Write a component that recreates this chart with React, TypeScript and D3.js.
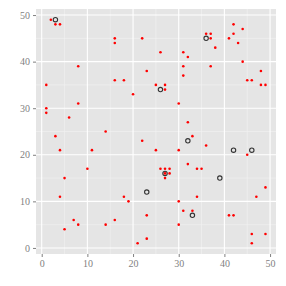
import React, { useEffect, useRef } from 'react'
import { scaleLinear, select, axisBottom, axisLeft, range } from 'd3'

// red points
const pointX = [2, 3, 4, 16, 16, 22, 8, 1, 16, 18, 20, 1, 1, 8, 6, 14, 3, 22,
  42, 44, 36, 37, 42, 37, 41, 43, 38, 26, 31, 32, 44, 31, 37, 23, 31, 48, 45, 46, 25, 27, 27, 48, 49, 30, 32, 33,
  4, 11, 10, 5, 4, 7, 8, 5, 14, 16, 18, 19, 21,
  25, 30, 36, 45, 32, 26, 27, 28, 34, 35, 27, 28, 27, 49, 34, 47, 30, 31, 33, 23, 41, 42, 30, 23, 46, 49, 46]
const pointY = [49, 48, 48, 45, 44, 45, 39, 35, 36, 36, 33, 30, 29, 31, 28, 25, 24, 23,
  48, 47, 46, 46, 46, 45, 45, 44, 43, 42, 42, 41, 40, 39, 39, 38, 37, 38, 36, 36, 35, 35, 34, 35, 35, 31, 27, 24,
  21, 21, 17, 15, 11, 6, 5, 4, 5, 6, 11, 10, 1,
  21, 21, 22, 20, 18, 17, 17, 17, 17, 17, 16, 16, 15, 13, 11, 11, 10, 8, 8, 7, 7, 7, 5, 2, 3, 3, 1]

// black open circles
const ringX = [3, 36, 26, 32, 42, 46, 27, 39, 23, 33]
const ringY = [49, 45, 34, 23, 21, 21, 16, 15, 12, 7]

const majorTicks = [0, 10, 20, 30, 40, 50]
const minorTicks = [5, 15, 25, 35, 45]

function App() {
  const svgRef = useRef(null)

  const width = 286,
    height = 286,
    panel = { left: 36, top: 9, right: 276, bottom: 254 }

  useEffect(() => {
    const svg = select(svgRef.current)
    svg.selectAll('*').remove()

    const xScale = scaleLinear().domain([-1.25, 51.3]).range([panel.left, panel.right])
    const yScale = scaleLinear().domain([-1.3, 51.3]).range([panel.bottom, panel.top])

    // panel background
    svg.append('rect')
      .attr('x', panel.left)
      .attr('y', panel.top)
      .attr('width', panel.right - panel.left)
      .attr('height', panel.bottom - panel.top)
      .attr('fill', '#e5e5e5')

    // minor grid
    svg.append('g').selectAll('line').data(minorTicks).join('line')
      .attr('x1', d => xScale(d)).attr('x2', d => xScale(d))
      .attr('y1', panel.top).attr('y2', panel.bottom)
      .attr('stroke', '#f2f2f2').attr('stroke-width', 0.6)
    svg.append('g').selectAll('line').data(minorTicks).join('line')
      .attr('y1', d => yScale(d)).attr('y2', d => yScale(d))
      .attr('x1', panel.left).attr('x2', panel.right)
      .attr('stroke', '#f2f2f2').attr('stroke-width', 0.6)

    // major grid
    svg.append('g').selectAll('line').data(majorTicks).join('line')
      .attr('x1', d => xScale(d)).attr('x2', d => xScale(d))
      .attr('y1', panel.top).attr('y2', panel.bottom)
      .attr('stroke', '#ffffff').attr('stroke-width', 1.1)
    svg.append('g').selectAll('line').data(majorTicks).join('line')
      .attr('y1', d => yScale(d)).attr('y2', d => yScale(d))
      .attr('x1', panel.left).attr('x2', panel.right)
      .attr('stroke', '#ffffff').attr('stroke-width', 1.1)

    // axes
    const xAxis = svg.append('g')
      .attr('transform', `translate(0, ${panel.bottom})`)
      .call(axisBottom(xScale).tickValues(majorTicks).tickSize(3).tickPadding(3))
    const yAxis = svg.append('g')
      .attr('transform', `translate(${panel.left}, 0)`)
      .call(axisLeft(yScale).tickValues(majorTicks).tickSize(3).tickPadding(3))

    ;[xAxis, yAxis].forEach(ax => {
      ax.select('.domain').remove()
      ax.selectAll('line').attr('stroke', '#7f7f7f')
      ax.selectAll('text')
        .attr('fill', '#7f7f7f')
        .style('font-family', '"Liberation Serif", serif')
        .style('font-size', '10px')
    })

    // open circles
    svg.append('g').selectAll('circle').data(range(ringX.length)).join('circle')
      .attr('cx', i => xScale(ringX[i]))
      .attr('cy', i => yScale(ringY[i]))
      .attr('r', 2.2)
      .attr('fill', 'none')
      .attr('stroke', '#333333')
      .attr('stroke-width', 1.1)

    // red points
    svg.append('g').selectAll('circle').data(range(pointX.length)).join('circle')
      .attr('cx', i => xScale(pointX[i]))
      .attr('cy', i => yScale(pointY[i]))
      .attr('r', 1.3)
      .attr('fill', '#ff0000')
  }, [])

  return (
    <svg ref={svgRef} width={width} height={height}
      style={{ position: 'absolute', left: 0, top: 0, background: '#ffffff' }}></svg>
  )
}

export default App
